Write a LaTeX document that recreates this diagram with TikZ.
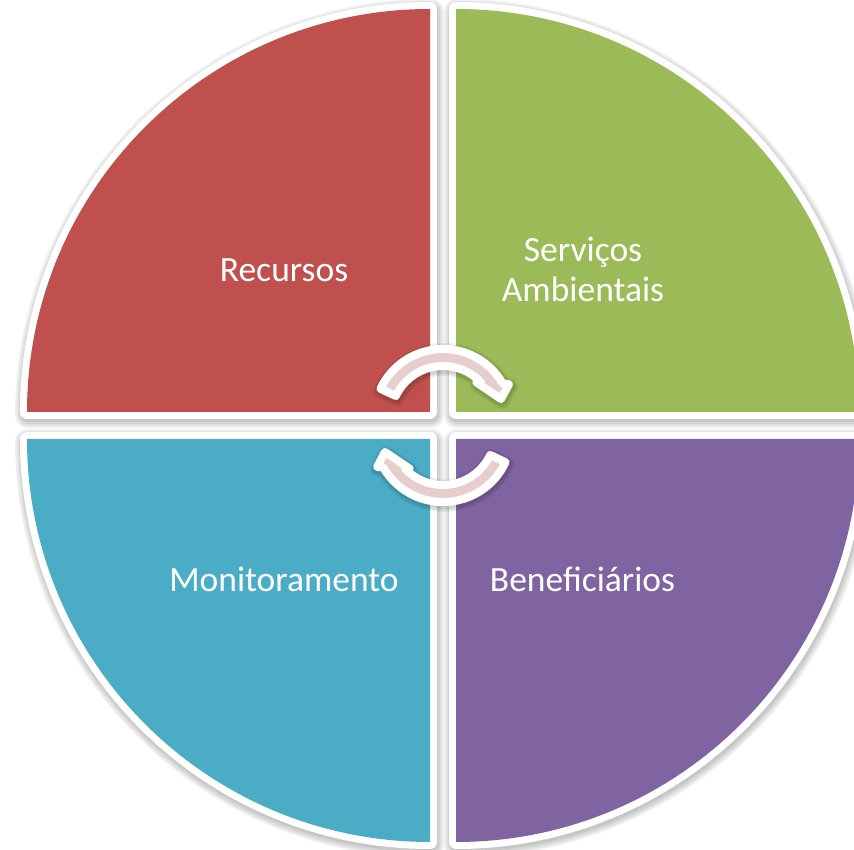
\documentclass[tikz,border=0pt]{standalone}
\usepackage{fontspec}
\setmainfont{Carlito}
\definecolor{qred}{HTML}{C0504D}
\definecolor{qgreen}{HTML}{9BBB59}
\definecolor{qblue}{HTML}{4BACC6}
\definecolor{qpurple}{HTML}{8064A2}
\definecolor{arrowpink}{HTML}{E8CDCD}
\begin{document}
\begin{tikzpicture}[x=1pt,y=1pt,
  lbl/.style={text=white, font=\fontsize{35.5}{40}\selectfont, inner sep=0pt, anchor=base},
  whiteedge/.style={draw=white, line width=14pt, line join=round},
  shade/.style={draw=black, opacity=0.06, line join=round},
  arrowframe/.style={shift={(443,423.5)}, rotate=#1, shift={(0,7.5)}},
  arrowpath/.style={insert path={(155:69) arc[start angle=155, end angle=29.8, radius=69]
      -- (66,34) -- (58,19) -- (33.5,35.5)
      -- (42.8:52) arc[start angle=42.8, end angle=155, radius=52] -- cycle}},
  arrowbody/.style={draw=white, line width=8pt, line join=round, fill=arrowpink}]
\useasboundingbox (0,0) rectangle (854,849);
\fill[white] (0,0) rectangle (854,849);
\clip (0,0) rectangle (854,849);
% shadows of the four quarters
\foreach \cx/\cy/\a in {430/437/90, 456/437/0, 430/410/180, 456/410/270}{
  \foreach \w in {14,18,22,26}{
    \draw[shade, line width=\w pt, shift={(1,-3)}] (\cx,\cy) -- ++(\a:403)
      arc[start angle=\a, end angle=\a+90, radius=403] -- cycle;
  }
}
% white borders
\foreach \cx/\cy/\a in {430/437/90, 456/437/0, 430/410/180, 456/410/270}{
  \draw[whiteedge] (\cx,\cy) -- ++(\a:403)
    arc[start angle=\a, end angle=\a+90, radius=403] -- cycle;
}
% coloured quarters
\foreach \cx/\cy/\a/\c in {430/437/90/qred, 456/437/0/qgreen, 430/410/180/qblue, 456/410/270/qpurple}{
  \fill[\c] (\cx,\cy) -- ++(\a:403)
    arc[start angle=\a, end angle=\a+90, radius=403] -- cycle;
}
% labels
\node[lbl] (rec) at (284,567) {Recursos};
\node[lbl] (serv) at (583,587) {Serviços};
\node[lbl] (amb) at (583,547) {Ambientais};
\node[lbl] (mon) at (284,257) {Monitoramento};
\node[lbl] (ben) at (582.5,257) {Beneficiários};
% circular arrows
\foreach \r in {0,180}{
  \begin{scope}[shift={(1,-2)}, arrowframe=\r]
    \foreach \w in {10,13,16}{
      \draw[shade, line width=\w pt, arrowpath];
    }
  \end{scope}
}
\foreach \r in {0,180}{
  \begin{scope}[arrowframe=\r]
    \draw[arrowbody, arrowpath];
  \end{scope}
}
\end{tikzpicture}
\end{document}
